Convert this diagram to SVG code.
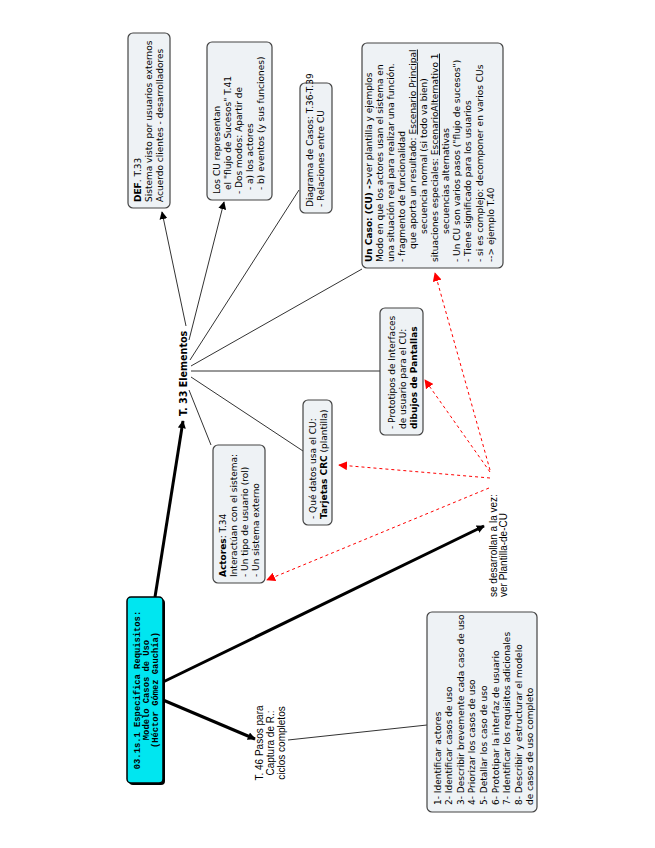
<svg xmlns="http://www.w3.org/2000/svg" width="655" height="848" viewBox="0 0 655 848">
<defs>
<style>
.box{fill:#eef2f5;stroke:#444;stroke-width:1.2}
.bt{font-family:"DejaVu Sans",Verdana,sans-serif;font-size:9px;fill:#000}
.lt{font-family:"Liberation Sans",Arial,sans-serif;font-size:10px;fill:#000}
.rt{font-family:"Liberation Mono","Courier New",monospace;font-size:8.8px;font-weight:bold;fill:#000}
.b{font-weight:bold}
.u{text-decoration:underline}
.thin{stroke:#333;stroke-width:1;fill:none}
.thick{stroke:#000;stroke-width:3;fill:none}
.red{stroke:#ff0000;stroke-width:1;stroke-dasharray:3,3;fill:none}
</style>
<marker id="ab" viewBox="0 0 10 10" refX="9" refY="5" markerWidth="8" markerHeight="8" markerUnits="userSpaceOnUse" orient="auto"><path d="M0,0 L10,5 L0,10 z" fill="#000"/></marker>
<marker id="ar" viewBox="0 0 10 10" refX="9" refY="5" markerWidth="9" markerHeight="9" markerUnits="userSpaceOnUse" orient="auto"><path d="M0,0 L10,5 L0,10 z" fill="#ff0000"/></marker>
</defs>
<rect width="655" height="848" fill="#fff"/>
<g id="connectors">
<line class="thick" x1="155" y1="597" x2="183" y2="421" marker-end="url(#ab)"/>
<line class="thick" x1="163" y1="682" x2="484" y2="526" marker-end="url(#ab)"/>
<line class="thick" x1="163" y1="700" x2="255" y2="739" marker-end="url(#ab)"/>
<line class="thin" x1="288" y1="740" x2="427" y2="725"/>
<line class="thin" x1="186" y1="326" x2="162" y2="212" marker-end="url(#ab)"/>
<line class="thin" x1="189" y1="340" x2="224" y2="202" marker-end="url(#ab)"/>
<line class="thin" x1="190" y1="360" x2="299" y2="190"/>
<line class="thin" x1="191" y1="366" x2="362" y2="269"/>
<line class="thin" x1="191" y1="371" x2="380" y2="371"/>
<line class="thin" x1="191" y1="377" x2="303" y2="451"/>
<line class="thin" x1="189" y1="390" x2="211" y2="445"/>
<line class="red" x1="490" y1="470" x2="435" y2="273" marker-end="url(#ar)"/>
<line class="red" x1="490" y1="472" x2="425" y2="380" marker-end="url(#ar)"/>
<line class="red" x1="490" y1="478" x2="339" y2="465" marker-end="url(#ar)"/>
<line class="red" x1="489" y1="488" x2="267" y2="580" marker-end="url(#ar)"/>
</g>
<g id="root">
<rect x="129" y="599" width="36" height="186" rx="4" fill="#000"/>
<rect x="127" y="597" width="36" height="186" rx="4" fill="#00e6f0" stroke="#000" stroke-width="1.5"/>
<text class="rt" transform="translate(0,690) rotate(-90)" text-anchor="middle"><tspan x="0" y="140">03.1s.1 Especifica Requisitos:</tspan><tspan x="0" y="149">Modelo Casos de Uso</tspan><tspan x="0" y="158">(Héctor Gómez Gauchía)</tspan></text>
</g>
<g id="elementos">
<text class="bt b" transform="translate(187,416) rotate(-90)" style="font-size:9.6px">T. 33 Elementos</text>
</g>
<g id="def">
<rect class="box" x="128" y="33" width="42" height="175" rx="5"/>
<text class="bt" transform="translate(0,202) rotate(-90)"><tspan x="0" y="140.7"><tspan class="b">DEF</tspan>. T.33</tspan><tspan x="0" y="151.7">Sistema visto por usuarios externos</tspan><tspan x="0" y="162.7">Acuerdo clientes - desarrolladores</tspan></text>
</g>
<g id="loscu">
<rect class="box" x="207" y="42" width="65" height="158" rx="5"/>
<text class="bt" transform="translate(0,194) rotate(-90)"><tspan x="0" y="220">Los CU representan</tspan><tspan x="4" y="231">el "flujo de Sucesos" T.41</tspan><tspan x="0" y="242">- Dos modos: Apartir de</tspan><tspan x="4" y="253">- a) los actores</tspan><tspan x="4" y="264">- b) eventos (y sus funciones)</tspan></text>
</g>
<g id="diagrama">
<rect class="box" x="300" y="83" width="32" height="130" rx="5"/>
<text class="bt" transform="translate(0,207) rotate(-90)"><tspan x="0" y="312.5">Diagrama de Casos: T.36-T.39</tspan><tspan x="0" y="323.5">- Relaciones entre CU</tspan></text>
</g>
<g id="uncaso">
<rect class="box" x="362" y="43" width="141" height="225" rx="5"/>
<text class="bt" transform="translate(0,262) rotate(-90)"><tspan x="0" y="371.5"><tspan class="b">Un Caso: (CU) -&gt;</tspan>ver plantilla y ejemplos</tspan><tspan x="0" y="382.6">Modo en que los actores usan el sistema en</tspan><tspan x="0" y="393.7">una situación real para realizar una función.</tspan><tspan x="0" y="404.8">- fragmento de funcionalidad</tspan><tspan x="13" y="415.9">que aporta un resultado: <tspan class="u">Escenario Principal</tspan></tspan><tspan x="28" y="427">secuencia normal  (si todo va bien)</tspan><tspan x="0" y="438.1">situaciones especiales: <tspan class="u">EscenarioAlternativo 1</tspan></tspan><tspan x="28" y="449.2">secuencias alternativas</tspan><tspan x="0" y="460.3">- Un CU son varios pasos ("flujo de sucesos")</tspan><tspan x="0" y="471.4">- Tiene significado para los usuarios</tspan><tspan x="0" y="482.5">- si es complejo: decomponer en varios CUs</tspan><tspan x="0" y="493.6">--&gt; ejemplo T.40</tspan></text>
</g>
<g id="prototipos">
<rect class="box" x="380" y="308" width="43" height="127" rx="5"/>
<text class="bt" transform="translate(0,429) rotate(-90)"><tspan x="0" y="394.5">- Prototipos de  Interfaces</tspan><tspan x="0" y="405.5">de usuario para el CU:</tspan><tspan x="0" y="416.5" class="b">dibujos de Pantallas</tspan></text>
</g>
<g id="tarjetas">
<rect class="box" x="303" y="400" width="29" height="125" rx="5"/>
<text class="bt" transform="translate(0,519) rotate(-90)"><tspan x="0" y="315.5">- Qué datos usa el CU:</tspan><tspan x="0" y="326.5"><tspan class="b">Tarjetas CRC</tspan> (plantilla)</tspan></text>
</g>
<g id="actores">
<rect class="box" x="213" y="445" width="52" height="138" rx="5"/>
<text class="bt" transform="translate(0,577) rotate(-90)"><tspan x="0" y="225.5"><tspan class="b">Actores</tspan>:   T.34</tspan><tspan x="0" y="236.5">Interactúan con el sistema:</tspan><tspan x="0" y="247.5">- Un tipo de usuario (rol)</tspan><tspan x="0" y="258.5">- Un sistema externo</tspan></text>
</g>
<g id="desarrollan">
<text class="lt" transform="translate(0,597) rotate(-90)"><tspan x="0" y="496.5">se desarrollan a la vez:</tspan><tspan x="0" y="506.5">ver Plantilla-de-CU</tspan></text>
</g>
<g id="pasos">
<text class="lt" transform="translate(0,743) rotate(-90)" text-anchor="middle"><tspan x="0" y="262.5">T. 46 Pasos para</tspan><tspan x="0" y="273.5">Captura de R.:</tspan><tspan x="0" y="284.5">ciclos completos</tspan></text>
</g>
<g id="steps">
<rect class="box" x="427" y="612" width="110" height="200" rx="5"/>
<text class="bt" transform="translate(0,805) rotate(-90)"><tspan x="0" y="440.5">1- Identificar actores</tspan><tspan x="0" y="452.1">2- Identificar casos de uso</tspan><tspan x="0" y="463.7">3- Describir brevemente cada caso de uso</tspan><tspan x="0" y="475.3">4- Priorizar los casos de uso</tspan><tspan x="0" y="486.9">5- Detallar los caso de uso</tspan><tspan x="0" y="498.5">6- Prototipar la interfaz de usuario</tspan><tspan x="0" y="510.1">7- Identificar los requisitos adicionales</tspan><tspan x="0" y="521.7">8- Describir y estructurar el modelo</tspan><tspan x="0" y="533.3">de casos de uso completo</tspan></text>
</g>
</svg>
